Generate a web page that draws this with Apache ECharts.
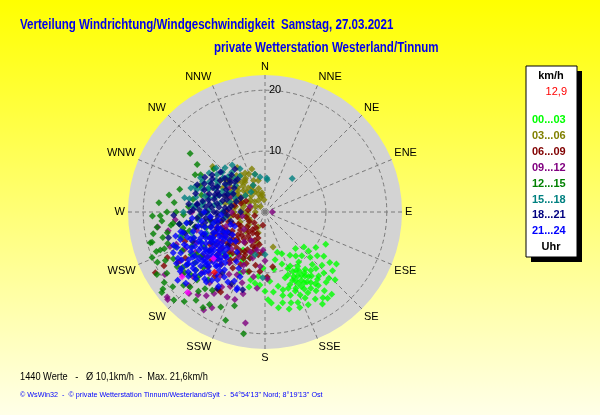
<!DOCTYPE html>
<html>
<head>
<meta charset="utf-8">
<title>Verteilung Windrichtung/Windgeschwindigkeit</title>
<script src="https://cdn.jsdelivr.net/npm/echarts@6/dist/echarts.min.js"></script>
<style>
  * { margin: 0; padding: 0; }
  body { overflow: hidden; }
  #chart {
    width: 600px;
    height: 415px;
    background: linear-gradient(to bottom, #ffff00 0%, #ffffe8 100%);
  }
</style>
</head>
<body>
<div id="chart"></div>
<script>
var titleText = 'Verteilung Windrichtung/Windgeschwindigkeit  Samstag, 27.03.2021';
var subText = 'private Wetterstation Westerland/Tinnum';
var summaryText = '1440 Werte   -   \u00d8 10,1km/h  -  Max. 21,6km/h';
var creditText = '\u00a9 WsWin32  -  \u00a9 private Wetterstation Tinnum/Westerland/Sylt  -  54\u00b054\'13" Nord; 8\u00b019\'13" Ost';
var directions = ['N','NNE','NE','ENE','E','ESE','SE','SSE','S','SSW','SW','WSW','W','WNW','NW','NNW'];
var timeBands = ['00...03','03...06','06...09','09...12','12...15','15...18','18...21','21...24'];
var currentSpeed = '12,9';

// Werte: [km/h, Richtung in Grad]
var band0003 = [[11.2,150],[11.8,153],[12.4,148],[12.9,155],[13.3,151],[13.8,147],[14.2,153],[12.1,158],[11.5,145],[13.0,144],[14.6,149],[12.6,161],[13.5,158],[10.8,155],[11.0,160],[12.2,142],[14.0,142],[15.0,152],[13.1,163],[10.4,149],[14.8,157],[12.7,152],[11.9,147],[13.6,154],[12.3,156],[15.4,147],
  [10.5,135],[11.6,138],[12.8,133],[13.9,136],[14.7,131],[15.3,139],[11.2,130],[12.1,127],[13.5,128],[10.2,125],[11.3,118],[9.6,132],[14.5,126],[16.0,134],
  [16.2,143],[17.0,146],[17.4,141],[16.5,150],[15.8,160],[16.4,166],[15.9,172],[17.5,144],[16.8,155],[15.5,164],
  [6.9,163],[7.4,158],[8.2,150],[8.8,145],[9.4,140],[8.0,168],[9.0,162],[9.8,155],[7.8,140],[8.6,132],[9.5,171],
  [12.4,170],[13.2,174],[14.4,178],[11.4,176],[14.0,168],[13.0,180],[12.0,184],
  [8.7,205],[11.4,192],[7.9,198],[9.0,219],[8.3,212],[10.2,196],[7.2,210],[9.6,226],[10.8,202],
  [12.0,150],[13.4,149],[14.4,145],[11.6,156],[12.8,146],[13.9,159],[10.9,152],[14.9,144],[15.6,155],[11.3,163],[10.0,158],[12.5,138],[13.7,140],[15.1,136],[9.9,146],[14.3,163],[16.7,160],[15.2,169],[17.8,148],[13.1,167],
  [10.6,186],[11.8,188],[9.2,182],[12.6,192],[15.0,176]];
var band0306 = [[11.4,311],[8.4,309],[7.2,333],[6.2,328],[4.8,336],[3.2,351],[5.9,326],[4.6,332],[3.7,333],[5.1,299],[4.4,318],[2.8,350],[5.9,284],[5.3,277],[3.3,267],[2.8,242],[4.4,248],[5.8,262],[2.7,205],[3.6,198],[5.2,193],[5.9,167],[3.1,309],
  [6.8,318],[7.6,322],[5.5,340],[6.4,345],[4.0,345],[2.2,330],[1.8,300],[2.5,285],[3.8,292],[4.6,302],[5.6,308],[6.6,300],[7.0,292],[6.2,290],[4.9,280],[3.9,275],[2.9,262],[1.6,270],[1.2,320],[2.0,355],[3.5,320],[4.2,310],[5.0,315],[6.0,312],[7.9,315],[9.0,305],[8.0,300],[6.7,282],[4.3,258],[5.1,270],[3.4,232],[4.5,225],[6.8,337],[7.4,343],[5.3,348],[8.6,328],
  [4.0,330],[4.8,325],[5.6,320],[6.4,330],[7.2,327],[3.2,340],[2.6,345],[3.0,300],[3.6,285],[4.4,295],[5.2,290],[6.0,298],[6.8,306],[7.6,309],[5.4,303],[2.4,315],[4.0,265],[3.0,250],[6.2,322],[8.2,310]];
var band0609 = [[2.2,189],[5.2,208],[5.0,234],[7.9,227],[6.6,266],[7.8,205],[7.1,189],[6.4,195],[7.3,207],[9.1,172],[6.7,184],[9.7,216],[2.8,277],
  [3.5,215],[4.2,220],[4.8,245],[5.6,250],[6.2,240],[6.9,230],[7.5,218],[8.2,212],[8.8,222],[3.0,240],[3.8,200],[4.4,195],[5.9,200],[6.0,213],[8.0,198],[8.5,235],[9.2,230],[7.0,245],[5.4,225],[4.6,260],[3.2,255],[2.5,225],[1.8,250],[6.5,222],[7.7,238],[9.5,205],[10.1,195],[10.6,210],[8.9,190],[10.7,178],[9.8,185],[11.2,220],[11.8,228],[10.5,240],[6.3,272],[7.4,258],[5.1,282],[4.2,290],[3.6,300],[8.3,252],
  [20.6,241],[18.8,242],[14.9,211],[17.7,245],[15.1,240],[16.5,240],[15.0,209],[13.0,226],[12.5,235],[14.0,250],[13.4,218],
  [4.0,210],[4.8,215],[5.6,218],[6.4,226],[7.2,224],[8.0,230],[8.6,218],[9.2,212],[9.8,222],[7.6,212],[6.8,205],[6.0,195],[5.0,200],[5.8,230],[6.6,236],[7.4,250],[8.0,242],[8.8,246],[9.6,236],[10.4,228],[4.6,240],[3.8,230],[3.0,210],[5.4,190],[7.0,198],[8.4,205],[9.0,200],[10.2,215],[6.2,255],[5.2,265]];
var band0912 = [[18.5,190],[21.3,229],[15.2,199],[15.3,204],[17.5,219],[6.2,293],[8.2,290],[9.9,286],[16.0,240],[16.2,259],[16.6,250],[19.4,238],[15.9,228],[14.3,226],[14.2,210],[6.4,192],[6.3,183],[9.4,202],[11.3,204],[21.5,228],[18.0,209],[18.3,223],[19.0,212],
  [7.0,200],[7.8,195],[8.5,210],[10.2,215],[11.0,225],[12.0,232],[12.8,215],[13.5,205],[12.2,198],[10.8,190],[9.0,185],[8.0,180],[5.2,205],[4.5,230],[3.8,260],[2.6,290],[1.2,90],[5.5,270],[6.8,250],[8.8,238],[10.0,245],[11.6,255],[13.2,240],[14.6,245],[15.5,250],[17.0,233],[16.8,215],[13.9,195],[12.6,186],[11.0,178],[7.2,303],[9.0,298],[12.0,270],[14.8,265],[17.8,262],
  [9.6,230],[10.6,236],[12.4,246],[13.6,222],[14.8,218],[11.8,210],[10.4,200],[8.2,222],[7.4,240],[6.0,215],[15.8,212],[17.4,226]];
var band1215 = [[15.6,308],[13.6,305],[12.6,274],[17.0,265],[18.7,259],[19.5,255],[18.3,250],[21.5,232],[21.0,233],[19.5,231],[18.7,213],[17.7,211],[18.9,200],[20.3,190],[13.4,268],[15.2,263],[16.5,233],[15.8,225],[15.5,214],[17.9,262],[17.3,256],[15.8,249],[19.5,245],[16.3,236],[17.4,225],[13.7,259],[13.7,256],[14.3,253],[16.9,243],[16.1,270],[19.2,255],[12.4,262],
  [14.0,240],[14.8,230],[13.2,245],[12.5,250],[11.8,258],[11.0,265],[12.0,280],[10.8,285],[11.5,292],[13.0,298],[14.5,285],[16.0,280],[17.5,275],[18.5,268],[20.0,248],[20.5,240],[19.0,238],[18.0,228],[17.0,220],[16.0,218],[14.5,220],[13.6,228],[12.8,235],[11.5,240],[10.5,248],[10.0,255],[15.0,245],[16.8,252],[20.8,226],[19.8,222],[18.4,218],[17.2,205],[16.2,198],[15.4,236],[14.2,262],[9.8,270],[9.2,262],[12.2,300],[11.0,310],
  [14.6,270],[15.6,262],[16.4,258],[17.6,250],[18.2,244],[17.0,238],[16.0,230],[15.2,226],[14.2,234],[13.2,238],[19.0,250],[20.2,235],[12.8,256],[15.0,276],[17.2,268]];
var band1518 = [[8.5,320],[10.1,293],[10.4,276],[7.5,281],[6.8,297],[6.2,300],[5.3,4],[13.4,270],[11.0,263],[8.9,309],[9.6,313],[5.8,352],[4.8,336],[10.3,279],[9.5,284],[11.5,274],[9.5,269],[7.1,39],[5.6,3],[10.0,292],[14.5,254],[10.8,182],[12.5,254],[7.0,180],[7.2,193],
  [8.0,290],[9.0,300],[7.8,305],[6.5,312],[7.2,325],[8.2,330],[9.8,318],[11.2,305],[12.0,298],[11.8,288],[12.6,280],[10.6,268],[9.2,272],[8.4,278],[7.0,270],[6.0,286],[5.4,295],[4.2,310],[6.6,262],[8.8,258],[10.2,250],[11.6,245],[13.0,262],[12.2,290],[9.4,325],[10.8,312],[6.4,345],[4.0,325],[13.8,240],[11.0,235],
  [9.0,295],[9.6,303],[10.4,298],[11.0,290],[11.6,282],[10.2,285],[8.6,286],[7.8,296],[8.4,314],[10.0,308],[11.4,296],[12.8,288],[13.4,280],[12.0,275],[7.4,318]];
var band1821 = [[7.8,312],[8.7,289],[9.5,282],[9.0,265],[9.5,244],[7.5,310],[6.6,276],[7.9,269],[7.9,257],[11.2,277],[16.4,255],[13.3,196],[11.2,276],[12.3,270],[8.5,293],
  [6.0,300],[6.8,295],[7.2,285],[8.0,280],[8.8,275],[9.6,270],[10.4,268],[10.0,260],[9.2,255],[8.4,250],[7.6,245],[7.0,260],[6.2,265],[5.6,280],[5.0,290],[4.6,300],[6.4,308],[7.0,320],[8.2,318],[9.0,305],[10.0,298],[10.6,290],[11.8,285],[12.4,262],[11.6,258],[10.8,250],[10.0,240],[11.2,235],[12.8,248],[13.6,255],[14.2,262],[12.0,292],[9.8,312],[8.6,325],[5.8,255],[6.8,240],[7.4,232],[8.2,228],[13.0,205],[12.2,215],[14.8,212],[10.6,305],[11.4,300],[4.0,270],[15.0,268],
  [7.4,300],[8.0,290],[8.6,284],[9.2,278],[9.8,275],[10.4,280],[10.8,272],[9.6,288],[8.8,298],[8.0,305],[7.2,292],[6.6,288],[7.6,276],[8.4,270],[9.0,262],[9.8,264],[10.6,258],[11.2,265],[11.8,272],[12.6,276],[7.8,265],[6.8,270],[6.0,275],[8.2,260],[9.4,295],[10.2,302],[11.0,295],[7.0,315],[8.6,310],[9.2,248]];
var band2124 = [[10,245],[9.5,240],[10.5,250],[11,242],[11.5,238],[12,246],[12.5,240],[9,248],[8.5,242],[8,236],[7.5,244],[10.8,235],[11.8,232],[12.6,228],[13.2,235],[13.8,242],[14.3,248],[14.8,238],[13.4,252],[12.2,255],[11.2,258],[10.2,256],[9.2,254],[8.2,252],[7.0,242],[7.4,230],[8.6,226],[9.6,222],[10.6,218],[11.6,215],[12.6,212],[9.8,230],[11.0,226],[12.0,222],[13.0,218],[14.0,225],[15.0,232],[15.8,240],[16.5,246],[16.0,250],[15.2,255],[14.2,257],[13.9,256],[15.5,228],[16.6,236],[17.0,235],
  [13.3,200],[11.4,201],[13.0,208],[13.6,200],[13.6,215],[14.9,230],
  [6.0,250],[6.5,235],[5.5,245],[7.8,260],[9.0,265],[10.5,262],[12.0,265],[13.0,262],[6.8,225],[8.0,215],[9.4,210],[10.2,205],[17.5,228],[18.2,232],[15.0,220],[12.4,204],[14.4,212],[8.6,258],[7.2,266],[10.0,270],
  [9.2,238],[10.4,233],[11.4,248],[12.8,244],[13.6,238],[14.6,234],[15.4,244],[12.4,250],[11.0,252],[10.0,236],[9.0,230],[8.4,246],[7.8,250],[7.6,238],[10.8,228],[11.8,222],[12.8,226],[13.8,230],[14.6,226],[15.6,236],[16.2,242],[14.0,246],[13.0,250],[11.6,244],[10.6,246],[9.6,244],[8.8,234],[9.4,226],[10.4,224],[11.2,230],[12.2,236],[13.4,244],[14.6,252],[15.6,248],[16.8,240],[12.0,241],[10.2,241],[8.2,240],[11.6,236],[13.0,232],
  [9.8,220],[10.8,222],[11.8,226],[12.8,230],[13.8,234],[14.8,222],[15.8,226],[16.4,230],[12.2,218],[13.4,224],[11.4,220],[10.2,228],[14.2,218],[15.2,236],[12.6,232],[11.0,233],[9.4,234],[13.0,228],[14.0,238],[16.0,232]];
var extraPoints = [[17.3,232],[11.4,228],[18.3,224]];
var currentPoint = [[12.9,220]];

var bandColors = ['#00ff00','#808000','#800000','#800080','#008000','#008080','#000080','#0000ff'];
var bands = [band0003, band0306, band0609, band0912, band1215, band1518, band1821, band2124];
var sans = "'Liberation Sans', Arial, sans-serif";
var polarCenter = [265, 212];
var polarRadius = 137;

var series = bands.map(function (d, i) {
  return {
    type: 'scatter',
    coordinateSystem: 'polar',
    data: d,
    symbol: 'diamond',
    symbolSize: 7,
    itemStyle: { color: bandColors[i] },
    silent: true
  };
});
series.push({ type: 'scatter', coordinateSystem: 'polar', data: extraPoints, symbol: 'diamond', symbolSize: 7, itemStyle: { color: '#ff00ff' }, silent: true });
series.push({ type: 'scatter', coordinateSystem: 'polar', data: currentPoint, symbol: 'diamond', symbolSize: 7, itemStyle: { color: '#ff0000' }, silent: true });

function label(x, y, text, color, size, weight, align, sx) {
  return { type: 'text', x: x, y: y, scaleX: sx || 1,
    style: { text: text, fill: color, fontSize: size, fontWeight: weight || 'normal', fontFamily: sans,
      align: align || 'left', verticalAlign: 'middle' } };
}

var graphics = [
  // grauer Hintergrund der Windrose
  { type: 'circle', z: -1, silent: true, shape: { cx: polarCenter[0], cy: polarCenter[1], r: polarRadius }, style: { fill: '#d3d3d3' } },
  // Legende rechts (Kasten mit Schatten)
  { type: 'rect', shape: { x: 531, y: 71, width: 51, height: 191 }, style: { fill: '#000' } },
  { type: 'rect', shape: { x: 526, y: 66, width: 51, height: 191 }, style: { fill: '#fff', stroke: '#000', lineWidth: 1 } },
  label(551, 76, 'km/h', '#000', 11, 'bold', 'center'),
  label(567, 92, currentSpeed, '#ff0000', 11, 'normal', 'right'),
  label(551, 247, 'Uhr', '#000', 11, 'bold', 'center'),
  // Titel
  label(20, 25, titleText, '#0000ee', 14, 'bold', 'left', 0.825),
  label(214, 48, subText, '#0000ee', 14, 'bold', 'left', 0.825),
  // Fusszeile
  label(20, 377, summaryText, '#000', 11, 'normal', 'left', 0.84),
  label(20, 395, creditText, '#0000ff', 8, 'normal', 'left', 0.9)
];
timeBands.forEach(function (t, i) {
  graphics.push(label(532, 120 + i * 15.9, t, bandColors[i], 11, 'bold'));
});

var chart = echarts.init(document.getElementById('chart'));
chart.setOption({
  animation: false,
  backgroundColor: 'transparent',
  polar: { center: polarCenter, radius: polarRadius },
  angleAxis: {
    type: 'value',
    min: 0,
    max: 360,
    interval: 22.5,
    startAngle: 90,
    clockwise: true,
    axisLine: { show: false },
    axisTick: { show: false },
    axisLabel: {
      margin: 3,
      color: '#000',
      fontSize: 11,
      fontFamily: sans,
      formatter: function (v) { return v >= 360 ? '' : directions[Math.round(v / 22.5) % 16]; }
    },
    splitLine: { show: true, lineStyle: { color: '#7a7a7a', type: [4, 3], width: 1 } }
  },
  radiusAxis: {
    type: 'value',
    min: 0,
    max: 22.5,
    interval: 10,
    axisLine: { show: false },
    axisTick: { show: false },
    axisLabel: {
      color: '#000',
      fontSize: 11,
      fontFamily: sans,
      margin: -4,
      align: 'left',
      formatter: function (v) { return (v === 10 || v === 20) ? String(v) : ''; }
    },
    splitLine: { show: true, lineStyle: { color: ['#7a7a7a', '#7a7a7a', '#7a7a7a', 'rgba(0,0,0,0)'], type: [4, 3], width: 1 } }
  },
  graphic: graphics,
  series: series
});
</script>
</body>
</html>
